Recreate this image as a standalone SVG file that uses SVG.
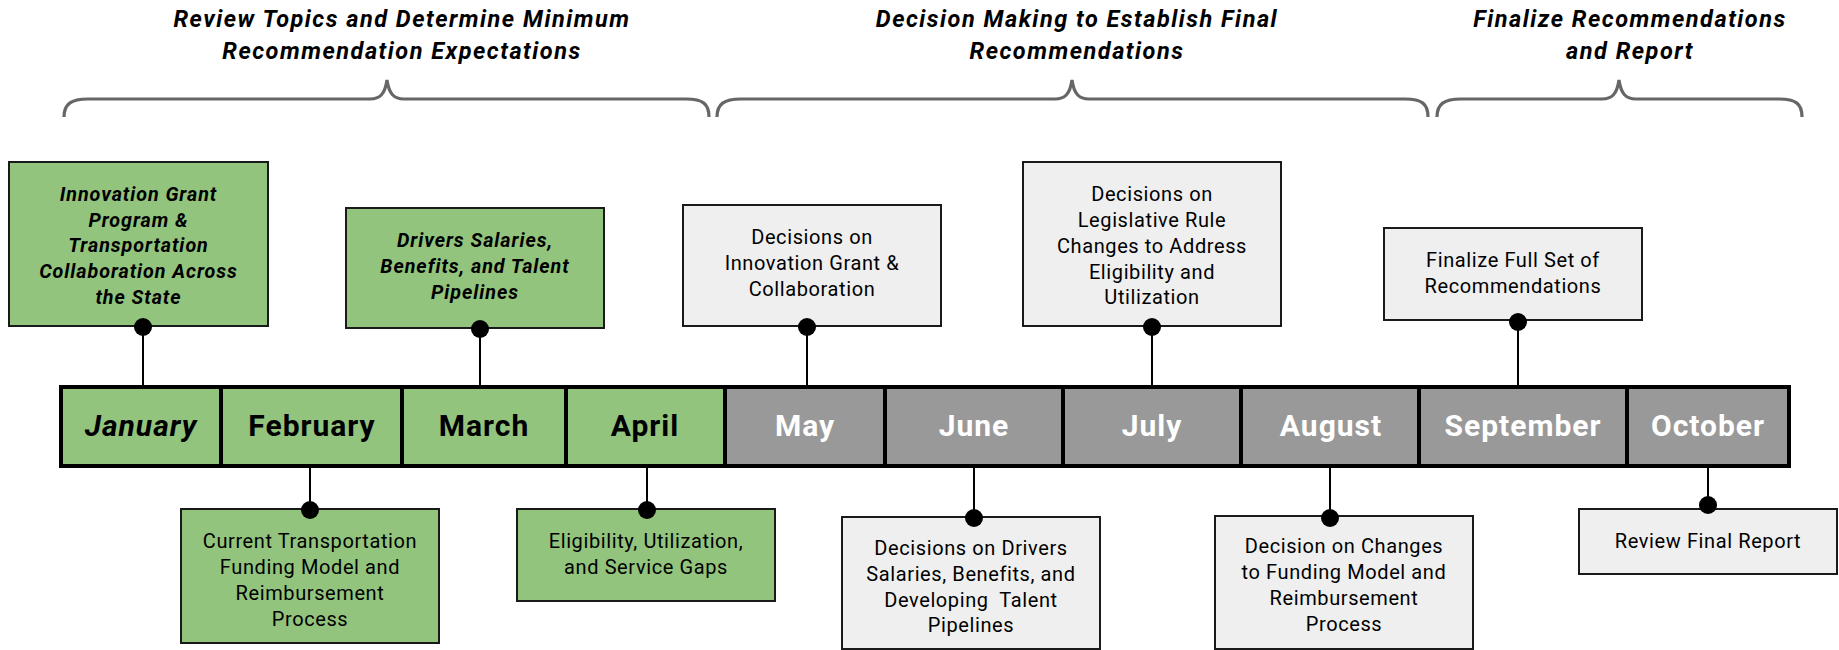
<svg xmlns="http://www.w3.org/2000/svg" width="1839" height="650" viewBox="0 0 1839 650">
<style>
text{font-family:Roboto,"Liberation Sans",sans-serif;text-anchor:middle;fill:#000}
.title{font-size:23.5px;font-weight:700;font-style:italic;letter-spacing:1.5px}
.hi{font-size:19.7px;font-weight:700;font-style:italic;letter-spacing:0.95px}
.body{font-size:20px;letter-spacing:0.6px}
.month{font-size:30px;font-weight:700;letter-spacing:1px}
.mw{fill:#fff}
.green{fill:#93c47d;stroke:#1a1a1a;stroke-width:2}
.grey{fill:#efefef;stroke:#1a1a1a;stroke-width:2}
.brace{fill:none;stroke:#666;stroke-width:3.2}
.stem{stroke:#000;stroke-width:2}
.dot{fill:#000}
.cell-g{fill:#93c47d}
.cell-x{fill:#999}
.div{stroke:#000;stroke-width:4}
</style>
<g id="phase-titles">
<g id="phase1">
<text class="title" x="402" y="27">Review Topics and Determine Minimum</text>
<text class="title" x="402" y="59">Recommendation Expectations</text>
<path class="brace" d="M64,117 C64,104 71,99 88,99 L370,99 C380,99 385,94 387,80 C389,94 394,99 404,99 L686,99 C703,99 709,104 709,117"/>
</g>
<g id="phase2">
<text class="title" x="1077" y="27">Decision Making to Establish Final</text>
<text class="title" x="1077" y="59">Recommendations</text>
<path class="brace" d="M717,117 C717,104 724,99 741,99 L1055,99 C1065,99 1070,94 1072,80 C1074,94 1079,99 1089,99 L1405,99 C1422,99 1428,104 1428,117"/>
</g>
<g id="phase3">
<text class="title" x="1630" y="27">Finalize Recommendations</text>
<text class="title" x="1630" y="59">and Report</text>
<path class="brace" d="M1437,117 C1437,104 1444,99 1461,99 L1602,99 C1612,99 1617,94 1619,80 C1621,94 1626,99 1636,99 L1779,99 C1796,99 1802,104 1802,117"/>
</g>
</g>
<g id="connectors">
<line class="stem" x1="143" y1="327" x2="143" y2="387"/>
<line class="stem" x1="480" y1="329" x2="480" y2="387"/>
<line class="stem" x1="807" y1="327" x2="807" y2="387"/>
<line class="stem" x1="1152" y1="327" x2="1152" y2="387"/>
<line class="stem" x1="1518" y1="322" x2="1518" y2="387"/>
<line class="stem" x1="310" y1="466" x2="310" y2="510"/>
<line class="stem" x1="647" y1="466" x2="647" y2="510"/>
<line class="stem" x1="974" y1="466" x2="974" y2="518"/>
<line class="stem" x1="1330" y1="466" x2="1330" y2="518"/>
<line class="stem" x1="1708" y1="466" x2="1708" y2="505"/>
</g>
<g id="timeline">
<rect class="cell-g" x="61" y="387" width="664" height="79"/>
<rect class="cell-x" x="725" y="387" width="1064" height="79"/>
<rect x="61" y="387" width="1728" height="79" fill="none" stroke="#000" stroke-width="4"/>
<line class="div" x1="221" y1="387" x2="221" y2="466"/>
<line class="div" x1="402" y1="387" x2="402" y2="466"/>
<line class="div" x1="566" y1="387" x2="566" y2="466"/>
<line class="div" x1="725" y1="387" x2="725" y2="466"/>
<line class="div" x1="885" y1="387" x2="885" y2="466"/>
<line class="div" x1="1063" y1="387" x2="1063" y2="466"/>
<line class="div" x1="1241" y1="387" x2="1241" y2="466"/>
<line class="div" x1="1419" y1="387" x2="1419" y2="466"/>
<line class="div" x1="1627" y1="387" x2="1627" y2="466"/>
<g id="m-jan"><text class="month" x="141" y="436" font-style="italic">January</text></g>
<g id="m-feb"><text class="month" x="312" y="436">February</text></g>
<g id="m-mar"><text class="month" x="484" y="436">March</text></g>
<g id="m-apr"><text class="month" x="645" y="436">April</text></g>
<g id="m-may"><text class="month mw" x="805" y="436">May</text></g>
<g id="m-jun"><text class="month mw" x="974" y="436">June</text></g>
<g id="m-jul"><text class="month mw" x="1152" y="436">July</text></g>
<g id="m-aug"><text class="month mw" x="1331" y="436">August</text></g>
<g id="m-sep"><text class="month mw" x="1523" y="436">September</text></g>
<g id="m-oct"><text class="month mw" x="1708" y="436">October</text></g>
</g>
<g id="n-jan">
<rect class="green" x="9" y="162" width="259" height="164"/>
<text class="hi" x="138.5" y="201">Innovation Grant</text>
<text class="hi" x="138.5" y="227">Program &amp;</text>
<text class="hi" x="138.5" y="252">Transportation</text>
<text class="hi" x="138.5" y="278">Collaboration Across</text>
<text class="hi" x="138.5" y="304">the State</text>
</g>
<g id="n-mar">
<rect class="green" x="346" y="208" width="258" height="120"/>
<text class="hi" x="475" y="247">Drivers Salaries,</text>
<text class="hi" x="475" y="273">Benefits, and Talent</text>
<text class="hi" x="475" y="299">Pipelines</text>
</g>
<g id="n-may">
<rect class="grey" x="683" y="205" width="258" height="121"/>
<text class="body" x="812" y="244">Decisions on</text>
<text class="body" x="812" y="270">Innovation Grant &amp;</text>
<text class="body" x="812" y="296">Collaboration</text>
</g>
<g id="n-jul">
<rect class="grey" x="1023" y="162" width="258" height="164"/>
<text class="body" x="1152" y="201">Decisions on</text>
<text class="body" x="1152" y="227">Legislative Rule</text>
<text class="body" x="1152" y="253">Changes to Address</text>
<text class="body" x="1152" y="279">Eligibility and</text>
<text class="body" x="1152" y="304">Utilization</text>
</g>
<g id="n-sep">
<rect class="grey" x="1384" y="228" width="258" height="92"/>
<text class="body" x="1513" y="267">Finalize Full Set of</text>
<text class="body" x="1513" y="293">Recommendations</text>
</g>
<g id="n-feb">
<rect class="green" x="181" y="509" width="258" height="134"/>
<text class="body" x="310" y="548">Current Transportation</text>
<text class="body" x="310" y="574">Funding Model and</text>
<text class="body" x="310" y="600">Reimbursement</text>
<text class="body" x="310" y="626">Process</text>
</g>
<g id="n-apr">
<rect class="green" x="517" y="509" width="258" height="92"/>
<text class="body" x="646" y="548">Eligibility, Utilization,</text>
<text class="body" x="646" y="574">and Service Gaps</text>
</g>
<g id="n-jun">
<rect class="grey" x="842" y="517" width="258" height="132"/>
<text class="body" x="971" y="555">Decisions on Drivers</text>
<text class="body" x="971" y="581">Salaries, Benefits, and</text>
<text class="body" x="971" y="607" style="white-space:pre">Developing  Talent</text>
<text class="body" x="971" y="632">Pipelines</text>
</g>
<g id="n-aug">
<rect class="grey" x="1215" y="516" width="258" height="133"/>
<text class="body" x="1344" y="553">Decision on Changes</text>
<text class="body" x="1344" y="579">to Funding Model and</text>
<text class="body" x="1344" y="605">Reimbursement</text>
<text class="body" x="1344" y="631">Process</text>
</g>
<g id="n-oct">
<rect class="grey" x="1579" y="509" width="258" height="65"/>
<text class="body" x="1708" y="548">Review Final Report</text>
</g>
<g id="dots">
<circle class="dot" cx="143" cy="327" r="9"/>
<circle class="dot" cx="480" cy="329" r="9"/>
<circle class="dot" cx="807" cy="327" r="9"/>
<circle class="dot" cx="1152" cy="327" r="9"/>
<circle class="dot" cx="1518" cy="322" r="9"/>
<circle class="dot" cx="310" cy="510" r="9"/>
<circle class="dot" cx="647" cy="510" r="9"/>
<circle class="dot" cx="974" cy="518" r="9"/>
<circle class="dot" cx="1330" cy="518" r="9"/>
<circle class="dot" cx="1708" cy="505" r="9"/>
</g>
</svg>
